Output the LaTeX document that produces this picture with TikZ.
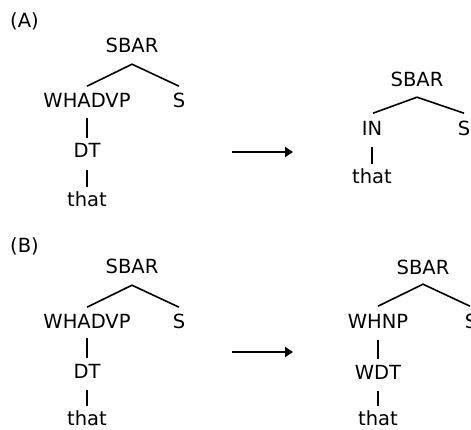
\documentclass[tikz,border=0pt]{standalone}
\usepackage{fontspec}
\setmainfont{DejaVu Sans}
\usetikzlibrary{arrows.meta}
\begin{document}
\begin{tikzpicture}[x=1pt,y=-1pt,
  lab/.style={font=\fontsize{19.5}{22}\selectfont, inner sep=0pt, text height=14pt, text depth=0pt, anchor=base},
  tree/.style={line width=1.6pt},
  trans/.style={line width=2.8pt, -{Triangle[length=8pt,width=10pt]}}]
\useasboundingbox (0,0) rectangle (471,430);
% (A)
\node[lab, anchor=base west] (la) at (10,28) {(A)};
\node[lab] (a1) at (132,53) {SBAR};
\node[lab] (a2) at (87,108) {WHADVP};
\node[lab] (a3) at (179,108) {S};
\node[lab] (a4) at (87,158) {DT};
\node[lab] (a5) at (87,207) {that};
\draw[tree] ([xshift=-45pt,yshift=-33pt]a1.south) -- ([yshift=-11pt]a1.south) -- ([xshift=47pt,yshift=-33pt]a1.south);
\draw[tree] ([yshift=-10pt]a2.south) -- ([yshift=6pt]a4.north);
\draw[tree] ([yshift=-12pt]a4.south) -- ([yshift=6pt]a5.north);
\coordinate (aa1) at (232,152);
\coordinate (aa2) at (293,152);
\draw[trans] (aa1) -- (aa2);
\node[lab] (b1) at (417,87) {SBAR};
\node[lab] (b2) at (372,136) {IN};
\node[lab] (b3) at (464,136) {S};
\node[lab] (b4) at (372,184) {that};
\draw[tree] ([xshift=-44pt,yshift=-26pt]b1.south) -- ([yshift=-10pt]b1.south) -- ([xshift=47pt,yshift=-26pt]b1.south);
\draw[tree] ([yshift=-11pt]b2.south) -- ([yshift=6pt]b4.north);
% (B)
\node[lab, anchor=base west] (lb) at (10,253) {(B)};
\node[lab] (c1) at (132,274) {SBAR};
\node[lab] (c2) at (87,328) {WHADVP};
\node[lab] (c3) at (179,328) {S};
\node[lab] (c4) at (87,378) {DT};
\node[lab] (c5) at (87,425) {that};
\draw[tree] ([xshift=-45pt,yshift=-33pt]c1.south) -- ([yshift=-11pt]c1.south) -- ([xshift=47pt,yshift=-33pt]c1.south);
\draw[tree] ([yshift=-10pt]c2.south) -- ([yshift=6pt]c4.north);
\draw[tree] ([yshift=-12pt]c4.south) -- ([yshift=5pt]c5.north);
\coordinate (ba1) at (232,352);
\coordinate (ba2) at (293,352);
\draw[trans] (ba1) -- (ba2);
\node[lab] (d1) at (423,275) {SBAR};
\node[lab] (d2) at (378,328) {WHNP};
\node[lab] (d3) at (471,328) {S};
\node[lab] (d4) at (378,379) {WDT};
\node[lab] (d5) at (378,425) {that};
\draw[tree] ([xshift=-45pt,yshift=-31pt]d1.south) -- ([yshift=-9pt]d1.south) -- ([xshift=47pt,yshift=-31pt]d1.south);
\draw[tree] ([yshift=-12pt]d2.south) -- ([yshift=6pt]d4.north);
\draw[tree] ([yshift=-12pt]d4.south) -- ([yshift=5pt]d5.north);
\end{tikzpicture}
\end{document}
